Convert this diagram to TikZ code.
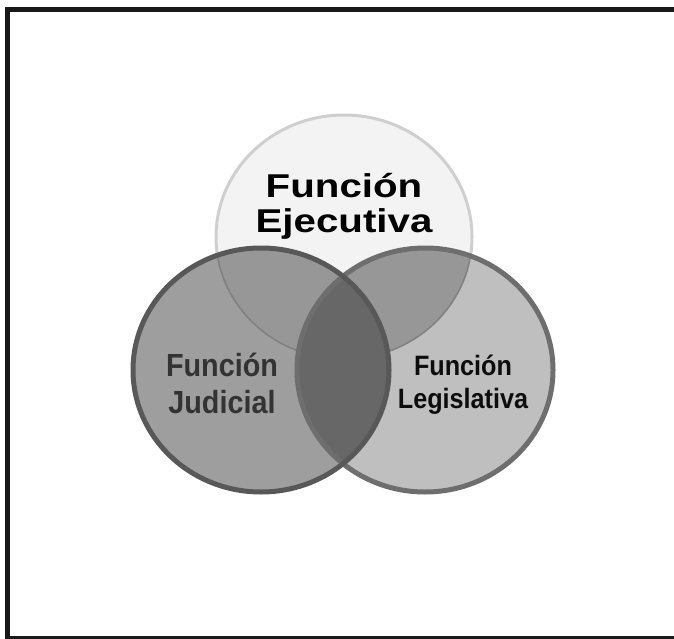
\documentclass[tikz,border=0pt]{standalone}
\usepackage{fontspec}
\setmainfont{Liberation Sans}
\newfontfamily\wideArial[FakeStretch=1.22]{Liberation Sans}
\newfontfamily\narrowArial[FakeStretch=0.9]{Liberation Sans}
\usepackage{tikz}
\usepackage{xcolor}
\usetikzlibrary{positioning}
\definecolor{ejefill}{HTML}{F3F3F3}
\definecolor{ejeline}{HTML}{CFCFCF}
\definecolor{judfill}{HTML}{9E9E9E}
\definecolor{judline}{HTML}{585858}
\definecolor{legfill}{HTML}{BFBFBF}
\definecolor{legline}{HTML}{6E6E6E}
\definecolor{ejejud}{HTML}{979797}
\definecolor{ejeleg}{HTML}{979797}
\definecolor{judleg}{HTML}{676767}
\tikzset{
	% Define frame style
	frame/.style={
		line width=5,
		black!90
	},
	% Define circle sizes
	ring/.style={
		x radius=128pt,
		y radius=122pt
	},
	% Define label style
	lbl/.style={
		align=center,
		inner sep=0,
		anchor=base
	}
}

\begin{document}
\begin{tikzpicture}[x=1pt, y=-1pt]
\useasboundingbox (0,0) rectangle (674,639);

% frame
\draw[frame] (674,9.5) -- (7.5,9.5) -- (7.5,639);
\draw[frame, line width=3] (5,637.5) -- (674,637.5);

\coordinate (E) at (344,237);
\coordinate (J) at (261,370);
\coordinate (L) at (425,370);

% fills
\filldraw[fill=ejefill, draw=ejeline, line width=3] (E) ellipse[ring];
\fill[judfill] (J) ellipse[ring];
\fill[legfill] (L) ellipse[ring];

% overlaps
\begin{scope}
\clip (E) ellipse[ring];
\fill[ejejud] (J) ellipse[ring];
\fill[ejeleg] (L) ellipse[ring];
\end{scope}
\begin{scope}
\clip (J) ellipse[ring];
\fill[judleg] (L) ellipse[ring];
\end{scope}

% borders
\begin{scope}[even odd rule]
\clip (J) ellipse[ring] (L) ellipse[ring];
\draw[black!50, line width=1.5] (E) ellipse[ring];
\end{scope}
\draw[legline, line width=5] (L) ellipse[ring];
\draw[judline, line width=5] (J) ellipse[ring];

% labels
\node[lbl, font={\wideArial\bfseries\fontsize{33}{35}\selectfont}] at (344,232) (T1) {Función\\Ejecutiva};
\node[lbl, text=black!80, font={\narrowArial\bfseries\fontsize{32}{37}\selectfont}] at (222,413) (T2) {Función\\Judicial};
\node[lbl, text=black!95, font={\narrowArial\bfseries\fontsize{28}{33}\selectfont}] at (463,408) (T3) {Función\\Legislativa};

\end{tikzpicture}
\end{document}
